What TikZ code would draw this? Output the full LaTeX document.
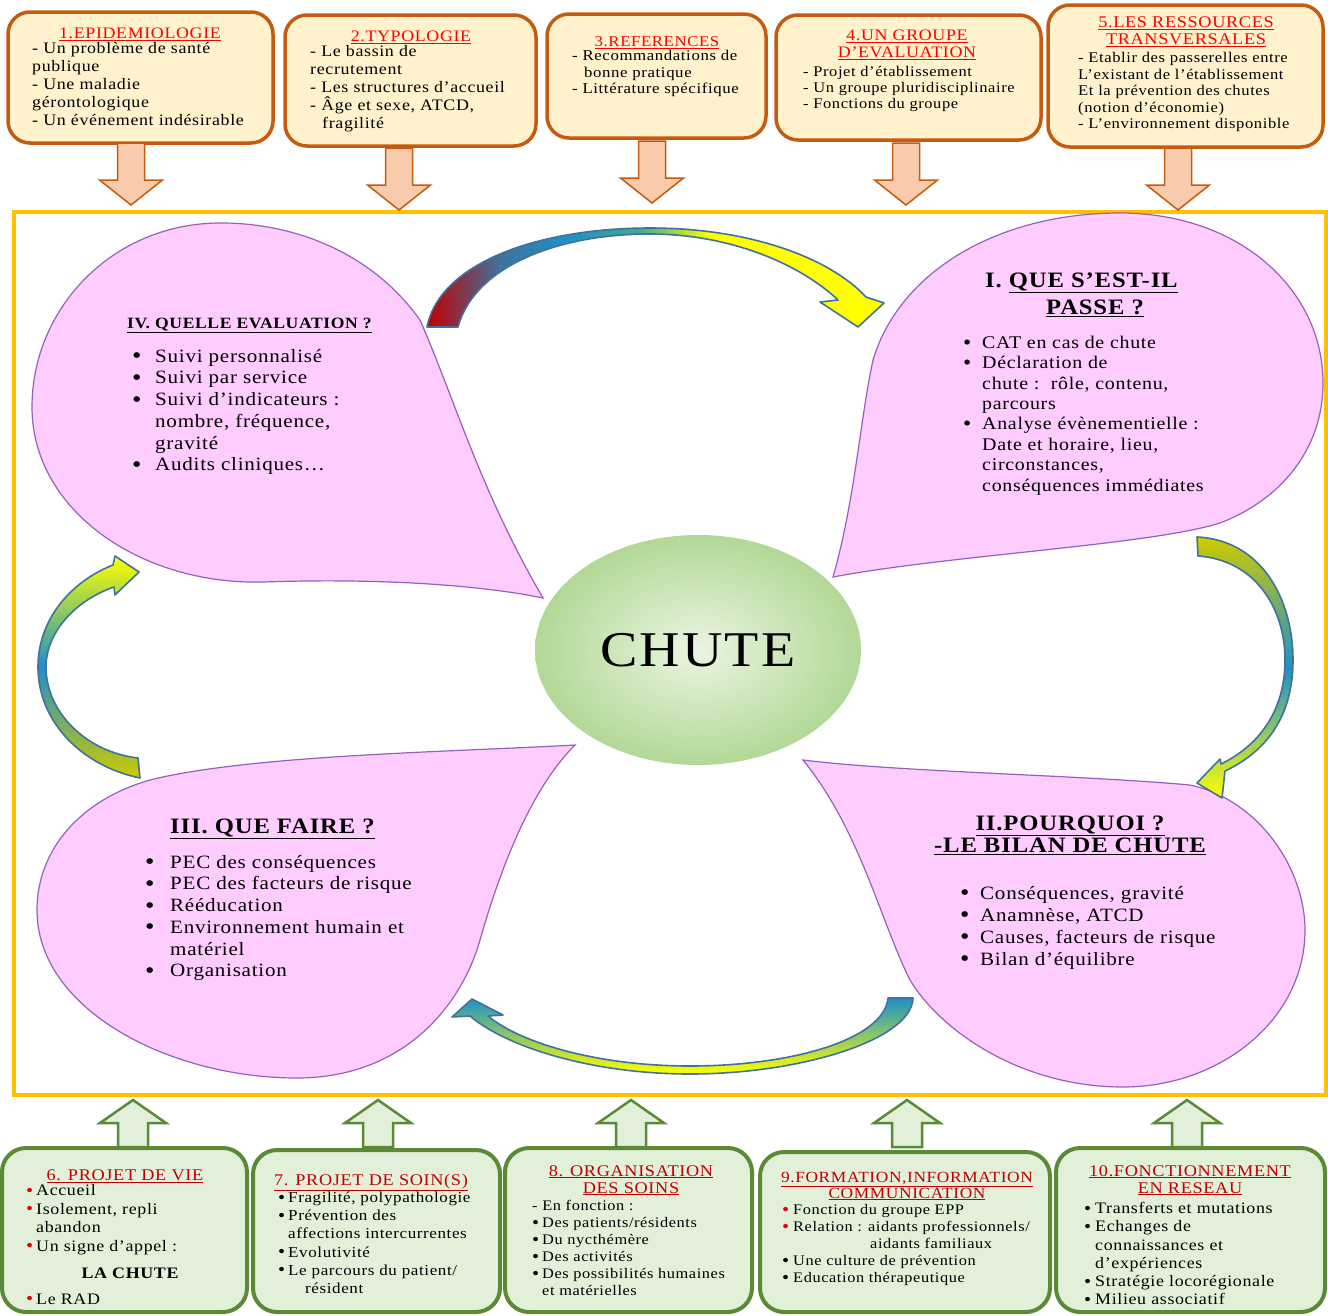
\documentclass[tikz,border=0pt]{standalone}
\usepackage{fontspec}
\setmainfont{Liberation Serif}[FakeStretch=1.12,LetterSpace=4]
\usepackage{xcolor}
\usetikzlibrary{shapes.geometric}
\definecolor{cream}{HTML}{FFF2CC}
\definecolor{brownline}{HTML}{C55A11}
\definecolor{peach}{HTML}{F8CBAD}
\definecolor{framegold}{HTML}{FFC000}
\definecolor{palegreen}{HTML}{E2F0D9}
\definecolor{darkgreen}{HTML}{5A8A36}
\definecolor{petalpink}{HTML}{FFCCFF}
\definecolor{petalline}{HTML}{9461BE}
\definecolor{arrowblue}{HTML}{41719C}
\definecolor{titlered}{HTML}{FF0000}
\definecolor{darkred}{HTML}{C00000}
\definecolor{bulletred}{HTML}{E60000}
\definecolor{tailred}{HTML}{C00000}
\definecolor{midblue}{HTML}{1E90C8}
\definecolor{tealgreen}{HTML}{3FA88C}
\definecolor{olivetail}{HTML}{CFCB00}
\definecolor{chutein}{HTML}{EAF5E2}
\definecolor{chuteout}{HTML}{B2D896}
\pgfdeclarehorizontalshading{toparc}{100bp}{color(0bp)=(tailred); color(25bp)=(tailred);
  color(33bp)=(arrowblue); color(40bp)=(midblue); color(48bp)=(tealgreen); color(56bp)=(yellow); color(100bp)=(yellow)}
\tikzset{
  framebox/.style={rectangle, draw=framegold, line width=4pt},
  topbox/.style={rectangle, rounded corners=22pt, draw=brownline, fill=cream, line width=3.5pt},
  botbox/.style={rectangle, rounded corners=24pt, draw=darkgreen, fill=palegreen, line width=4pt},
  petal/.style={draw=petalline, fill=petalpink, line width=1.2pt},
  curvarrow/.style={draw=arrowblue, line width=1.6pt, line join=round},
  firstbase/.style={execute at begin node={\rule{0pt}{0.8em}}},
  toptitle/.style={font=\fontsize{16}{17}\selectfont, text=titlered, align=center, anchor=north, inner sep=0pt, firstbase},
  bottitle/.style={font=\fontsize{16.3}{17}\selectfont, text=darkred, align=center, anchor=north, inner sep=0pt, firstbase},
  boxtext/.style n args={2}{font=\fontsize{#1}{#2}\selectfont, align=left, anchor=north west, inner sep=0pt, firstbase},
  petaltext/.style={font=\fontsize{18.8}{21.7}\selectfont, align=left, anchor=north west, inner sep=0pt, firstbase},
  petaltitle/.style={font=\fontsize{22}{22}\selectfont\bfseries, inner sep=0pt},
  pics/dnarr/.style={code={
    \draw[fill=peach, draw=brownline, line width=1.5pt]
      (-13.5,0) -- (13.5,0) -- (13.5,37) -- (31.5,37) -- (0,62) -- (-31.5,37) -- (-13.5,37) -- cycle;}},
  pics/uparr/.style={code={
    \draw[fill=palegreen, draw=darkgreen, line width=2.5pt, line join=miter]
      (0,0) -- (33,23) -- (15,23) -- (15,47) -- (-15,47) -- (-15,23) -- (-33,23) -- cycle;}},
}
\newcommand{\bigdot}{\raisebox{-1.6pt}{\fontsize{24}{24}\selectfont\textbullet}}
\newcommand{\middot}{\raisebox{-1pt}{\fontsize{21}{21}\selectfont\textbullet}}
\newcommand{\smalldot}{\raisebox{-0.6pt}{\fontsize{18}{18}\selectfont\textbullet}}
\newcommand{\bul}[1][23pt]{\makebox[#1][l]{\bigdot}}
\newcommand{\ibul}{\makebox[19pt][l]{\middot}}
\newcommand{\cont}[1][23pt]{\hspace*{#1}}
\newcommand{\rbul}[1][10pt]{\makebox[#1][l]{\textcolor{bulletred}{\smalldot}}}
\newcommand{\kbul}[1][10pt]{\makebox[#1][l]{\smalldot}}

\begin{document}
\begin{tikzpicture}[x=1pt,y=-1pt]
  \useasboundingbox (0,0) rectangle (1328,1315);
  \fill[white] (0,0) rectangle (1328,1315);

  \node[framebox, minimum width=1312pt, minimum height=883pt] (cadre) at (670,653.5) {};

  % petals
  \draw[petal] (543,598) .. controls (480,490) and (455,400) .. (420,320)
    .. controls (370,250) and (290,222) .. (217,223)
    .. controls (110,225) and (32,310) .. (32,407)
    .. controls (32,510) and (140,585) .. (263,582)
    .. controls (380,578) and (480,585) .. (543,598) -- cycle;
  \draw[petal] (833,577) .. controls (855,500) and (860,420) .. (873,360)
    .. controls (900,270) and (1000,213) .. (1120,213)
    .. controls (1240,213) and (1323,290) .. (1323,383)
    .. controls (1323,450) and (1280,500) .. (1220,523)
    .. controls (1150,545) and (950,555) .. (833,577) -- cycle;
  \draw[petal] (575,745) .. controls (450,752) and (250,755) .. (150,780)
    .. controls (80,800) and (37,850) .. (37,910)
    .. controls (37,1010) and (170,1078) .. (297,1078)
    .. controls (400,1078) and (460,1010) .. (480,940)
    .. controls (500,870) and (530,790) .. (575,745) -- cycle;
  \draw[petal] (803,760) .. controls (900,772) and (1080,775) .. (1190,785)
    .. controls (1260,800) and (1305,870) .. (1305,930)
    .. controls (1305,1020) and (1220,1087) .. (1123,1087)
    .. controls (1020,1087) and (940,1030) .. (910,980)
    .. controls (880,920) and (860,830) .. (803,760) -- cycle;

  \node[ellipse, minimum width=326pt, minimum height=230pt, inner color=chutein, outer color=chuteout,
    font=\fontsize{50}{50}\selectfont] (chute) at (698,650) {CHUTE};

  % curved arrows
  \shadedraw[curvarrow, shading=toparc]
    (427,327) .. controls (440,262) and (540,228) .. (650,228) .. controls (750,228) and (830,258) .. (866,297)
    -- (884,303) -- (858,327) -- (820,302) -- (838,300)
    .. controls (800,264) and (730,234) .. (650,234) .. controls (560,234) and (475,265) .. (458,327) -- cycle;
  \shadedraw[curvarrow, top color=olivetail, bottom color=yellow, middle color=midblue]
    (1197,537) .. controls (1262,540) and (1293,600) .. (1293,660) .. controls (1293,718) and (1265,752) .. (1225,771)
    -- (1222,798) -- (1197,783) -- (1220,759) -- (1221,764)
    .. controls (1258,746) and (1285,712) .. (1285,660) .. controls (1285,608) and (1255,560) .. (1198,556) -- cycle;
  \shadedraw[curvarrow, top color=midblue, bottom color=yellow]
    (913,998) .. controls (912,1040) and (800,1074) .. (690,1074) .. controls (590,1074) and (505,1046) .. (470,1016)
    -- (452,1017) -- (472,999) -- (503,1015) -- (488,1016)
    .. controls (522,1044) and (600,1066) .. (690,1066) .. controls (790,1066) and (884,1040) .. (888,998) -- cycle;
  \shadedraw[curvarrow, top color=yellow, bottom color=olivetail, middle color=midblue]
    (140,778) .. controls (82,766) and (38,722) .. (38,667) .. controls (38,620) and (70,582) .. (113,565)
    -- (115,556) -- (139,572) -- (115,595) -- (114,587)
    .. controls (76,600) and (46,632) .. (46,667) .. controls (46,712) and (86,752) .. (138,758) -- cycle;

  % petal texts
  \node[font=\fontsize{15.7}{16}\selectfont\bfseries, anchor=base west, inner sep=0pt] (evaltitle) at (127,328)
    {\underline{IV. QUELLE EVALUATION ?}};
  \node[petaltext] (evaltext) at (132,349)
    {\bul Suivi personnalisé\\ \bul Suivi par service\\ \bul Suivi d'indicateurs :\\ \cont nombre, fréquence,\\
     \cont gravité\\ \bul Audits cliniques…};
  \node[petaltitle, anchor=base west] (passetitle) at (985,287) {I. \underline{QUE S'EST-IL}};
  \node[petaltitle, anchor=base] (passetitleb) at (1095,314) {\underline{PASSE ?}};
  \node[petaltext, font=\fontsize{17.8}{20.4}\selectfont] (passetext) at (963,335.8)
    {\ibul CAT en cas de chute\\ \ibul Déclaration de\\ \cont[19pt]chute :\ \ rôle, contenu,\\
     \cont[19pt]parcours\\ \ibul Analyse évènementielle :\\ \cont[19pt]Date et horaire, lieu,\\
     \cont[19pt]circonstances,\\ \cont[19pt]conséquences immédiates};
  \node[petaltitle, anchor=base west] (fairetitle) at (170,833) {\underline{III. QUE FAIRE ?}};
  \node[petaltext] (fairetext) at (145,855)
    {\bul[25pt]PEC des conséquences\\ \bul[25pt]PEC des facteurs de risque\\ \bul[25pt]Rééducation\\
     \bul[25pt]Environnement humain et\\ \cont[25pt]matériel\\ \bul[25pt]Organisation};
  \node[petaltitle, align=center, anchor=north, firstbase] (bilantitle) at (1070,815.4)
    {\underline{II.POURQUOI ?}\\ \underline{-LE BILAN DE CHUTE}};
  \node[petaltext, font=\fontsize{18.8}{22}\selectfont] (bilantext) at (960,886)
    {\bul[20pt]Conséquences, gravité\\ \bul[20pt]Anamnèse, ATCD\\ \bul[20pt]Causes, facteurs de risque\\
     \bul[20pt]Bilan d'équilibre};

  % top boxes
  \node[topbox, minimum width=265pt, minimum height=131pt] (epi) at (140.5,77.5) {};
  \node[topbox, minimum width=251pt, minimum height=131pt] (typo) at (410.5,80.5) {};
  \node[topbox, minimum width=219pt, minimum height=124pt] (refs) at (656.5,76) {};
  \node[topbox, minimum width=265pt, minimum height=125pt] (groupe) at (908.5,77.5) {};
  \node[topbox, minimum width=275pt, minimum height=142pt] (ress) at (1185.5,76) {};

  \node[toptitle] (epititle) at (140,25.2) {\underline{1.EPIDEMIOLOGIE}};
  \node[boxtext={16}{18}] (epitext) at (32,42.2)
    {- Un problème de santé\\ publique\\ - Une maladie\\ gérontologique\\ - Un événement indésirable};
  \node[toptitle] (typotitle) at (411,28.2) {\underline{2.TYPOLOGIE}};
  \node[boxtext={16}{18}] (typotext) at (310,45.2)
    {- Le bassin de\\ recrutement\\ - Les structures d'accueil\\ - Âge et sexe, ATCD,\\ \hspace*{12pt}fragilité};
  \node[toptitle, font=\fontsize{15}{16}\selectfont] (refstitle) at (657,34) {\underline{3.REFERENCES}};
  \node[boxtext={15}{16.5}] (refstext) at (572,50)
    {- Recommandations de\\ \hspace*{12pt}bonne pratique\\ - Littérature spécifique};
  \node[toptitle] (groupetitle) at (907,30.2) {\underline{4.UN GROUPE}\\ \underline{D'EVALUATION}};
  \node[boxtext={14.7}{16}] (groupetext) at (803,66.2)
    {- Projet d'établissement\\ - Un groupe pluridisciplinaire\\ - Fonctions du groupe};
  \node[toptitle, font=\fontsize{16.3}{17}\selectfont] (resstitle) at (1186,17) {\underline{5.LES RESSOURCES}\\ \underline{TRANSVERSALES}};
  \node[boxtext={14.8}{16.5}] (resstext) at (1078,52.2)
    {- Etablir des passerelles entre\\ L'existant de l'établissement\\ Et la prévention des chutes\\
     (notion d'économie)\\ - L'environnement disponible};

  \pic at (131,143) {dnarr};
  \pic at (399,148) {dnarr};
  \pic at (652,141) {dnarr};
  \pic at (906,143) {dnarr};
  \pic at (1178,148) {dnarr};

  % bottom boxes
  \node[botbox, minimum width=245pt, minimum height=164pt] (vie) at (124.5,1230) {};
  \node[botbox, minimum width=247pt, minimum height=162pt] (soins) at (376.5,1231) {};
  \node[botbox, minimum width=247pt, minimum height=164pt] (orga) at (628.5,1230) {};
  \node[botbox, minimum width=290pt, minimum height=160pt] (forma) at (905,1232) {};
  \node[botbox, minimum width=269pt, minimum height=164pt] (reseau) at (1190.5,1230) {};

  \pic at (133,1100) {uparr};
  \pic at (378,1100) {uparr};
  \pic at (631,1100) {uparr};
  \pic at (907,1100) {uparr};
  \pic at (1187,1100) {uparr};

  \node[bottitle] (vietitle) at (125,1167) {\underline{6. PROJET DE VIE}};
  \node[boxtext={16}{18.5}] (vietext) at (26,1184.2)
    {\rbul Accueil\\ \rbul Isolement, repli\\ \hspace*{10pt}abandon\\ \rbul Un signe d'appel :};
  \node[font=\fontsize{16}{17}\selectfont\bfseries, anchor=base, inner sep=0pt] (viechute) at (130,1278) {LA CHUTE};
  \node[font=\fontsize{16}{17}\selectfont, anchor=base west, inner sep=0pt] (vierad) at (26,1304) {\rbul Le RAD};
  \node[bottitle] (soinstitle) at (371,1172) {\underline{7. PROJET DE SOIN(S)}};
  \node[boxtext={15.2}{18.2}] (soinstext) at (278,1191.8)
    {\kbul Fragilité, polypathologie\\ \kbul Prévention des\\ \hspace*{10pt}affections intercurrentes\\
     \kbul Evolutivité\\ \kbul Le parcours du patient/\\ \hspace*{27pt}résident};
  \node[bottitle] (orgatitle) at (631,1165) {\underline{8. ORGANISATION}\\ \underline{DES SOINS}};
  \node[boxtext={14.6}{17}] (orgatext) at (532,1200.3)
    {- En fonction :\\ \kbul Des patients/résidents\\ \kbul Du nycthémère\\ \kbul Des activités\\
     \kbul Des possibilités humaines\\ \hspace*{10pt}et matérielles};
  \node[bottitle, font=\fontsize{15.5}{16}\selectfont] (formatitle) at (907,1171.6)
    {\underline{9.FORMATION,INFORMATION}\\ \underline{COMMUNICATION}};
  \node[boxtext={14.6}{17}] (formatext) at (782,1204.3)
    {\rbul[11pt]Fonction du groupe EPP\\ \rbul[11pt]Relation : aidants professionnels/\\
     \hspace*{88pt}aidants familiaux\\ \kbul[11pt]Une culture de prévention\\ \kbul[11pt]Education thérapeutique};
  \node[bottitle] (reseautitle) at (1190,1165) {\underline{10.FONCTIONNEMENT}\\ \underline{EN RESEAU}};
  \node[boxtext={16}{18.2}] (reseautext) at (1084,1202.2)
    {\kbul[11pt]Transferts et mutations\\ \kbul[11pt]Echanges de\\ \hspace*{11pt}connaissances et\\
     \hspace*{11pt}d'expériences\\ \kbul[11pt]Stratégie locorégionale\\ \kbul[11pt]Milieu associatif};
\end{tikzpicture}
\end{document}
